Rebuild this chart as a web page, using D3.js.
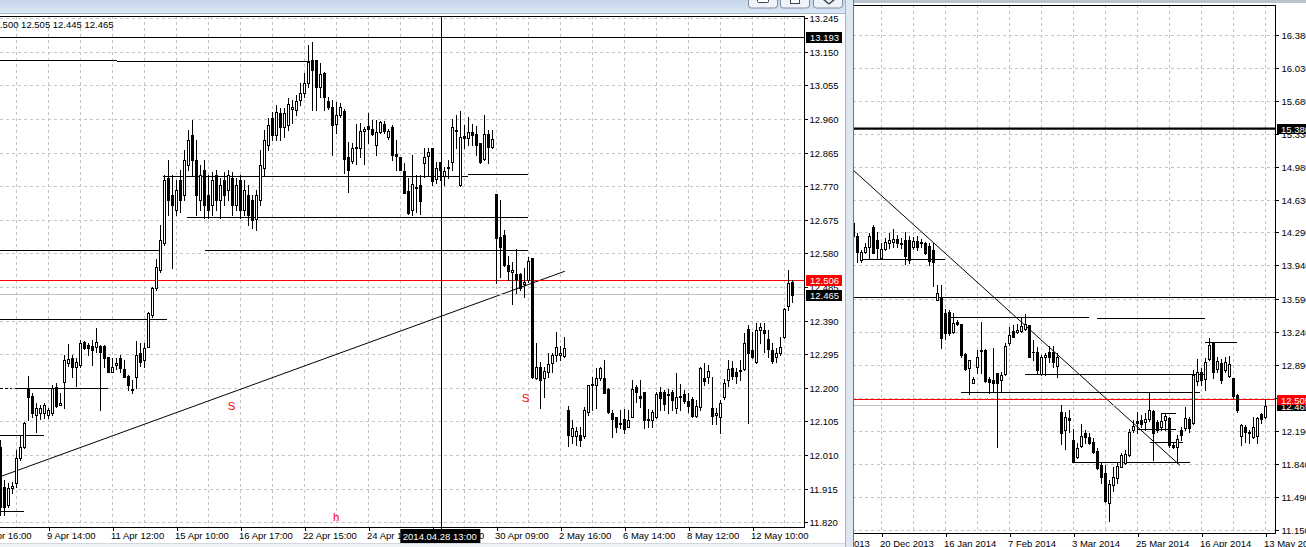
<!DOCTYPE html>
<html><head><meta charset="utf-8">
<script src="https://cdn.jsdelivr.net/npm/d3@7"></script>
<style>
html,body{margin:0;padding:0;background:#fff;overflow:hidden;}
svg{display:block;font-family:"Liberation Sans",Arial,sans-serif;}
</style></head><body>
<svg id="c" width="1306" height="547"></svg>
<script>
// ---------------- LEFT PANE (H1) DATA ----------------
const leftOpen = [12.034,11.921,11.871,11.918,11.933,12.003,12.034,12.201,12.178,12.125,12.130,12.130,12.125,12.130,12.204,12.153,12.218,12.272,12.286,12.260,12.266,12.331,12.323,12.320,12.317,12.320,12.320,12.289,12.246,12.266,12.286,12.255,12.235,12.198,12.232,12.300,12.280,12.317,12.408,12.484,12.535,12.611,12.795,12.747,12.704,12.789,12.747,12.832,12.916,12.846,12.733,12.817,12.747,12.718,12.803,12.733,12.789,12.761,12.795,12.718,12.789,12.704,12.747,12.733,12.679,12.733,12.823,12.888,12.964,12.916,12.978,12.939,12.945,12.990,12.987,13.015,13.035,13.063,13.128,13.128,13.052,13.092,13.012,12.996,12.947,12.973,12.984,12.854,12.843,12.880,12.880,12.928,12.942,12.933,12.888,12.925,12.948,12.911,12.939,12.863,12.854,12.815,12.758,12.704,12.767,12.775,12.837,12.857,12.880,12.792,12.840,12.800,12.823,12.840,12.928,12.775,12.914,12.908,12.925,12.919,12.894,12.849,12.919,12.882,12.750,12.628,12.634,12.549,12.529,12.523,12.523,12.495,12.506,12.569,12.229,12.260,12.229,12.246,12.272,12.294,12.294,12.292,12.139,12.065,12.065,12.068,12.065,12.133,12.210,12.210,12.229,12.229,12.198,12.130,12.119,12.102,12.113,12.091,12.119,12.204,12.178,12.190,12.113,12.111,12.119,12.190,12.190,12.184,12.190,12.144,12.178,12.184,12.164,12.170,12.122,12.147,12.229,12.232,12.144,12.125,12.119,12.176,12.224,12.258,12.246,12.249,12.255,12.368,12.309,12.275,12.365,12.365,12.340,12.309,12.289,12.300,12.345,12.433,12.500];
const leftHigh = [12.054,11.941,11.933,11.935,12.026,12.068,12.105,12.235,12.187,12.158,12.153,12.158,12.144,12.210,12.215,12.187,12.294,12.325,12.294,12.286,12.337,12.334,12.328,12.337,12.371,12.323,12.323,12.289,12.286,12.286,12.294,12.280,12.238,12.224,12.334,12.328,12.328,12.416,12.487,12.566,12.662,12.803,12.846,12.803,12.789,12.817,12.874,12.930,12.959,12.902,12.832,12.846,12.803,12.812,12.817,12.795,12.812,12.817,12.812,12.795,12.803,12.789,12.775,12.747,12.761,12.874,12.930,12.964,12.981,13.001,12.993,12.993,13.021,13.015,13.029,13.063,13.092,13.171,13.179,13.128,13.120,13.095,13.024,13.015,13.009,13.007,12.990,12.897,12.894,12.947,12.950,12.939,12.978,12.959,12.959,12.956,12.956,12.933,12.945,12.902,12.854,12.837,12.795,12.860,12.803,12.803,12.880,12.880,12.880,12.840,12.840,12.826,12.846,12.962,12.973,12.984,12.945,12.967,12.947,12.942,12.894,12.973,12.930,12.930,12.750,12.733,12.648,12.574,12.557,12.594,12.526,12.540,12.571,12.569,12.328,12.275,12.260,12.300,12.300,12.359,12.320,12.345,12.150,12.111,12.091,12.091,12.147,12.210,12.232,12.258,12.260,12.280,12.201,12.139,12.119,12.139,12.142,12.139,12.224,12.210,12.224,12.190,12.142,12.139,12.190,12.204,12.195,12.198,12.195,12.243,12.212,12.195,12.187,12.176,12.167,12.260,12.272,12.266,12.232,12.144,12.167,12.227,12.280,12.277,12.258,12.280,12.357,12.379,12.359,12.385,12.385,12.385,12.365,12.328,12.314,12.345,12.427,12.535,12.505];
const leftLow = [11.842,11.842,11.865,11.904,11.921,11.998,12.031,12.111,12.119,12.077,12.113,12.116,12.116,12.125,12.147,12.153,12.144,12.263,12.232,12.207,12.260,12.311,12.294,12.266,12.303,12.139,12.260,12.246,12.246,12.255,12.246,12.232,12.195,12.187,12.201,12.263,12.260,12.317,12.402,12.478,12.529,12.606,12.690,12.541,12.690,12.699,12.733,12.817,12.803,12.690,12.704,12.682,12.682,12.690,12.704,12.682,12.718,12.733,12.690,12.704,12.682,12.690,12.662,12.654,12.648,12.718,12.803,12.874,12.902,12.902,12.902,12.911,12.930,12.950,12.973,13.001,13.024,13.052,12.987,12.987,13.024,12.987,12.990,12.860,12.922,12.967,12.809,12.755,12.837,12.834,12.854,12.834,12.894,12.916,12.860,12.922,12.922,12.905,12.846,12.817,12.817,12.752,12.693,12.690,12.699,12.693,12.798,12.803,12.775,12.781,12.789,12.775,12.795,12.817,12.880,12.772,12.880,12.888,12.888,12.860,12.837,12.846,12.837,12.880,12.498,12.515,12.546,12.506,12.439,12.470,12.478,12.458,12.501,12.229,12.226,12.144,12.176,12.232,12.246,12.277,12.280,12.289,12.037,12.045,12.040,12.037,12.059,12.125,12.139,12.144,12.224,12.187,12.130,12.062,12.077,12.088,12.074,12.091,12.119,12.161,12.147,12.088,12.091,12.091,12.116,12.139,12.139,12.130,12.139,12.130,12.139,12.158,12.133,12.119,12.119,12.139,12.210,12.215,12.099,12.099,12.074,12.170,12.207,12.227,12.215,12.224,12.252,12.102,12.286,12.272,12.328,12.303,12.289,12.272,12.275,12.294,12.343,12.422,12.445];
const leftClose = [11.865,11.865,11.918,11.924,12.003,12.034,12.102,12.176,12.130,12.144,12.144,12.153,12.139,12.201,12.150,12.158,12.280,12.283,12.260,12.275,12.328,12.314,12.314,12.309,12.331,12.303,12.286,12.246,12.260,12.272,12.258,12.232,12.210,12.195,12.294,12.275,12.314,12.414,12.484,12.543,12.620,12.789,12.733,12.718,12.761,12.733,12.846,12.902,12.846,12.747,12.803,12.718,12.704,12.789,12.733,12.775,12.747,12.803,12.718,12.775,12.704,12.761,12.690,12.676,12.747,12.832,12.902,12.944,12.916,12.981,12.939,12.978,13.004,12.996,13.012,13.035,13.063,13.123,13.100,13.052,13.089,13.024,12.996,12.945,12.973,12.996,12.849,12.817,12.880,12.883,12.928,12.933,12.933,12.919,12.925,12.953,12.928,12.928,12.860,12.857,12.817,12.752,12.696,12.778,12.770,12.730,12.854,12.868,12.786,12.823,12.817,12.815,12.826,12.939,12.930,12.911,12.908,12.925,12.916,12.888,12.840,12.919,12.882,12.905,12.625,12.600,12.549,12.532,12.535,12.509,12.484,12.501,12.560,12.232,12.260,12.224,12.249,12.269,12.294,12.317,12.300,12.314,12.068,12.088,12.079,12.054,12.139,12.210,12.212,12.229,12.258,12.187,12.133,12.113,12.091,12.099,12.085,12.111,12.198,12.190,12.173,12.111,12.111,12.133,12.184,12.173,12.156,12.181,12.167,12.176,12.176,12.164,12.150,12.122,12.150,12.258,12.221,12.249,12.122,12.130,12.158,12.215,12.255,12.235,12.235,12.252,12.328,12.300,12.289,12.365,12.374,12.357,12.311,12.277,12.300,12.317,12.425,12.498,12.465];
const leftPriceTicks = [13.245,13.150,13.055,12.960,12.865,12.770,12.675,12.580,12.485,12.390,12.295,12.200,12.105,12.010,11.915,11.820];
const leftTickIdx = [-4,12,28,44,60,76,92,108,124,140,156,172,188];
const leftTickLabels = ["7 Apr 16:00","9 Apr 14:00","11 Apr 12:00","15 Apr 10:00","16 Apr 17:00","22 Apr 15:00","24 Apr 13:00","28 Apr 11:00","30 Apr 09:00","2 May 16:00","6 May 14:00","8 May 12:00","12 May 10:00"];
// horizontal objects: [fromBar, toBar, price]
const leftLevels = [[-1.5,29.1,13.126],[29.1,77.4,13.124],[40.6,116.9,12.800],[116.9,131.9,12.805],[46.6,131.9,12.684],[-1.5,39.9,12.591],[51.1,131.9,12.589],[-1.5,41.6,12.395],[3.6,26.9,12.199],[-1.5,10.9,12.067],[-1.5,5.9,11.852]];
const leftDashedLevel = [-1.5,2.9,12.199];
const leftTrend = [[-0.1,11.950],[141.1,12.531]];
const leftRedLevel = 12.506, leftBidLevel = 12.465;
const crossIdx = 110.2, crossPrice = 13.193, crossTime = "2014.04.28 13:00";
const leftTexts = [["S",56.8,12.139],["S",130.3,12.161],["h",83.1,11.826]];
const headerText = "12.500 12.505 12.445 12.465";

// ---------------- RIGHT PANE (D1) DATA ----------------
const rightOpen = [14.393,14.255,14.002,14.086,14.139,14.350,14.213,14.023,14.118,14.181,14.192,14.224,14.181,14.213,14.213,14.139,14.202,14.192,14.181,14.150,14.107,13.579,13.600,13.441,13.452,13.240,13.346,13.325,13.008,12.860,12.701,12.870,13.050,13.050,12.744,12.733,12.807,12.733,12.796,13.124,13.251,13.240,13.251,13.272,13.314,13.029,13.029,12.796,12.976,13.029,13.029,12.881,12.395,12.205,12.331,12.099,11.919,12.036,12.173,12.130,12.078,11.982,11.834,11.750,11.433,11.623,11.697,11.813,11.856,11.940,12.205,12.300,12.310,12.289,12.321,12.405,12.289,12.236,12.310,12.331,12.046,12.025,12.205,12.226,12.321,12.279,12.722,12.818,12.744,12.955,13.124,12.849,12.913,12.839,12.775,12.754,12.574,12.141,12.236,12.183,12.130,12.141,12.374,12.342];
const rightHigh = [14.424,14.287,14.107,14.181,14.287,14.371,14.298,14.181,14.234,14.287,14.329,14.266,14.234,14.298,14.255,14.245,14.255,14.224,14.192,14.181,14.181,13.737,13.737,13.483,13.473,13.441,13.367,13.325,13.018,12.944,12.765,13.050,13.346,13.061,12.765,13.071,12.807,12.818,13.124,13.293,13.314,13.325,13.399,13.431,13.314,13.156,13.082,12.997,13.018,13.092,13.092,13.018,12.469,12.395,12.416,12.215,12.067,12.268,12.205,12.173,12.120,12.014,11.856,11.834,11.676,11.813,11.866,11.961,11.993,12.215,12.310,12.395,12.363,12.384,12.606,12.416,12.310,12.384,12.374,12.342,12.078,12.152,12.236,12.448,12.342,12.839,12.955,12.860,12.966,13.177,13.135,12.976,12.955,12.976,12.987,12.754,12.585,12.268,12.257,12.205,12.342,12.342,12.384,12.530];
const rightLow = [14.213,13.980,13.980,14.076,14.012,14.076,14.012,14.012,14.107,14.128,14.139,14.139,14.128,13.959,13.970,14.118,14.107,14.139,14.065,13.949,13.727,13.579,13.071,13.166,13.209,13.230,13.314,12.976,12.839,12.585,12.701,12.807,12.807,12.712,12.596,12.606,12.025,12.617,12.786,13.103,13.188,13.230,13.240,13.262,12.976,12.944,12.796,12.786,12.786,12.923,12.870,12.765,12.056,12.004,12.183,11.866,11.908,12.025,12.067,12.056,11.961,11.792,11.644,11.443,11.242,11.560,11.644,11.813,11.845,11.930,12.183,12.173,12.236,12.205,12.300,11.887,12.183,12.205,12.205,12.025,12.014,11.856,12.099,12.205,12.183,12.268,12.680,12.680,12.627,12.944,12.754,12.818,12.701,12.818,12.765,12.543,12.395,12.046,12.078,12.067,12.120,12.067,12.279,12.331];
const rightClose = [14.255,14.086,14.086,14.139,14.255,14.076,14.128,14.118,14.192,14.213,14.224,14.181,14.171,14.044,14.002,14.202,14.139,14.181,14.076,13.991,13.980,13.653,13.177,13.230,13.230,13.336,13.325,12.997,12.849,12.944,12.744,12.976,13.040,12.722,12.712,12.701,12.701,12.786,13.092,13.209,13.188,13.262,13.304,13.325,12.976,13.029,12.839,12.976,12.997,12.976,12.923,12.976,12.173,12.342,12.310,11.866,12.014,12.141,12.130,12.067,11.972,11.803,11.708,11.454,11.634,11.708,11.824,11.940,11.951,12.183,12.247,12.279,12.268,12.321,12.416,12.173,12.205,12.300,12.352,12.046,12.025,12.109,12.152,12.331,12.226,12.786,12.818,12.733,12.923,13.103,12.818,12.934,12.733,12.923,12.902,12.564,12.416,12.257,12.183,12.173,12.236,12.331,12.321,12.465];
const rightFirstBar = -1;
const rightPriceTicks = [16.380,16.030,15.680,15.330,14.980,14.630,14.290,13.940,13.590,13.240,12.890,12.540,12.190,11.840,11.490,11.150];
const rightTickIdx = [-10,6,22,38,54,70,86,102];
const rightTickLabels = ["28 Nov 2013","20 Dec 2013","16 Jan 2014","7 Feb 2014","3 Mar 2014","25 Mar 2014","16 Apr 2014","13 May 2014"];
const rightLevels = [[-3,106,13.610],[0.6,21.9,14.009],[23.4,57.9,13.396],[59.9,86.9,13.385],[41.8,86.9,12.796],[25.9,85.6,12.603],[86.9,94.9,13.127],[75.9,79.6,12.381],[70.1,79.6,12.212],[73.1,81.4,12.074],[53.9,83.1,11.861]];
const rightThickLevel = 15.380;
const rightTrend = [[-1.1,14.953],[80.6,11.834]];
const rightRedLevel = 12.505, rightBidLevel = 12.465;

// ---------------- DRAWING ----------------
const svg = d3.select('#c');
const FONT = 9.5;
const defs = svg.append('defs');
const grad = defs.append('linearGradient').attr('id','tb').attr('x1',0).attr('y1',0).attr('x2',0).attr('y2',1);
grad.append('stop').attr('offset','0%').attr('stop-color','#c3d5ea');
grad.append('stop').attr('offset','100%').attr('stop-color','#dbe7f4');
defs.append('clipPath').attr('id','clipL').append('rect').attr('x',0).attr('y',16.5).attr('width',804).attr('height',511);
defs.append('clipPath').attr('id','clipR').append('rect').attr('x',854).attr('y',6).attr('width',422).attr('height',527);
defs.append('clipPath').attr('id','clipRA').append('rect').attr('x',854).attr('y',0).attr('width',452).attr('height',547);

svg.append('rect').attr('width',1306).attr('height',547).attr('fill','#fff');

const xL = d3.scaleLinear().domain([0,1]).range([0.5,4.5]);
const yL = d3.scaleLinear().domain([11.820,13.245]).range([522.7,18.7]);
const xR = d3.scaleLinear().domain([0,1]).range([857.5,861.5]);
const yR = d3.scaleLinear().domain([11.150,16.380]).range([530,35]);
const snap = v => Math.round(v - 0.5) + 0.5;

function grid(g, xs, ys, idxList, priceList, x0, x1, y0, y1) {
  g.selectAll('line.gv').data(idxList).join('line')
    .attr('x1', d => snap(xs(d))).attr('x2', d => snap(xs(d)))
    .attr('y1', y0).attr('y2', y1)
    .attr('stroke', '#c4c4c4').attr('stroke-dasharray', '3,3').attr('shape-rendering','crispEdges');
  g.selectAll('line.gh').data(priceList).join('line')
    .attr('x1', x0).attr('x2', x1)
    .attr('y1', d => snap(ys(d))).attr('y2', d => snap(ys(d)))
    .attr('stroke', '#c4c4c4').attr('stroke-dasharray', '3,3').attr('shape-rendering','crispEdges');
}
function levels(g, xs, ys, data, opts) {
  g.selectAll(null).data(data).join('line')
    .attr('x1', d => xs(d[0])).attr('x2', d => xs(d[1]))
    .attr('y1', d => snap(ys(d[2]))).attr('y2', d => snap(ys(d[2])))
    .attr('stroke', '#000').attr('stroke-width', 1).attr('shape-rendering','crispEdges');
}
function candles(g, xs, ys, O, H, L, C, first) {
  const idx = d3.range(O.length);
  const cx = i => snap(xs(i + first));
  g.selectAll(null).data(idx).join('line')
    .attr('x1', cx).attr('x2', cx)
    .attr('y1', i => Math.round(ys(H[i]))).attr('y2', i => Math.round(ys(L[i])) + 1)
    .attr('stroke', '#000').attr('shape-rendering','crispEdges');
  const top = i => Math.round(ys(Math.max(O[i], C[i])));
  const hgt = i => Math.max(1, Math.round(ys(Math.min(O[i], C[i]))) - top(i) + 1);
  g.selectAll(null).data(idx).join('rect')
    .attr('x', i => cx(i) - 1.5).attr('width', 3)
    .attr('y', top).attr('height', hgt)
    .attr('fill', '#000').attr('shape-rendering','crispEdges');
  g.selectAll(null).data(idx.filter(i => C[i] > O[i] && hgt(i) > 2)).join('rect')
    .attr('x', i => cx(i) - 0.5).attr('width', 1)
    .attr('y', i => top(i) + 1).attr('height', i => hgt(i) - 2)
    .attr('fill', '#fff').attr('shape-rendering','crispEdges');
}

// ===== LEFT PANE =====
const gL = svg.append('g').attr('clip-path','url(#clipL)');
const leftGridIdx = d3.range(-4, 200, 8);
grid(gL, xL, yL, leftGridIdx, leftPriceTicks, 0, 804, 16, 528);
levels(gL, xL, yL, leftLevels);
gL.append('line').attr('x1', xL(leftDashedLevel[0])).attr('x2', xL(leftDashedLevel[1]))
  .attr('y1', snap(yL(leftDashedLevel[2]))).attr('y2', snap(yL(leftDashedLevel[2])))
  .attr('stroke','#000').attr('stroke-dasharray','3,2').attr('shape-rendering','crispEdges');
gL.append('line').attr('x1', xL(leftTrend[0][0])).attr('y1', yL(leftTrend[0][1]))
  .attr('x2', xL(leftTrend[1][0])).attr('y2', yL(leftTrend[1][1]))
  .attr('stroke','#000').attr('stroke-width',1);
gL.append('line').attr('x1',0).attr('x2',804).attr('y1',snap(yL(leftRedLevel))).attr('y2',snap(yL(leftRedLevel)))
  .attr('stroke','#ff0000').attr('shape-rendering','crispEdges');
gL.append('line').attr('x1',0).attr('x2',804).attr('y1',snap(yL(leftBidLevel))).attr('y2',snap(yL(leftBidLevel)))
  .attr('stroke','#c0c0c0').attr('shape-rendering','crispEdges');
candles(gL, xL, yL, leftOpen, leftHigh, leftLow, leftClose, 0);
gL.selectAll(null).data(leftTexts).join('text')
  .attr('x', d => xL(d[1])).attr('y', d => yL(d[2]))
  .attr('fill', '#ff0000').attr('font-size', 11.5).text(d => d[0]);
// crosshair
gL.append('line').attr('x1',0).attr('x2',804).attr('y1',snap(yL(crossPrice))).attr('y2',snap(yL(crossPrice)))
  .attr('stroke','#000').attr('shape-rendering','crispEdges');
svg.append('line').attr('x1',snap(xL(crossIdx))).attr('x2',snap(xL(crossIdx))).attr('y1',16).attr('y2',531)
  .attr('stroke','#000').attr('shape-rendering','crispEdges');
// header
svg.append('text').attr('x',-10.6).attr('y',27.5).attr('font-size',FONT).attr('fill','#000').text(headerText);

// frame
svg.append('line').attr('x1',0).attr('x2',805).attr('y1',16.5).attr('y2',16.5).attr('stroke','#000').attr('shape-rendering','crispEdges');
svg.append('line').attr('x1',804.5).attr('x2',804.5).attr('y1',16).attr('y2',528).attr('stroke','#000').attr('shape-rendering','crispEdges');
svg.append('line').attr('x1',0).attr('x2',805).attr('y1',527.5).attr('y2',527.5).attr('stroke','#000').attr('shape-rendering','crispEdges');

// left axes
const axL = svg.append('g').attr('transform','translate(804.5,0)')
  .call(d3.axisRight(yL).tickValues(leftPriceTicks).tickSize(3).tickPadding(2).tickFormat(d3.format('.3f')));
axL.select('.domain').remove();
axL.selectAll('text').attr('font-size',FONT).attr('font-family','Liberation Sans, Arial, sans-serif').attr('fill','#000');
axL.selectAll('line').attr('stroke','#000').attr('shape-rendering','crispEdges');
axL.selectAll('.tick').attr('transform', d => `translate(0,${snap(yL(d))})`);

const axLB = svg.append('g').attr('transform','translate(0,527.5)')
  .call(d3.axisBottom(xL).tickValues(leftTickIdx).tickSize(3).tickPadding(2).tickFormat((d,i) => leftTickLabels[i]));
axLB.select('.domain').remove();
axLB.selectAll('text').attr('font-size',FONT).attr('font-family','Liberation Sans, Arial, sans-serif')
  .attr('fill','#000').attr('text-anchor','start').attr('x',-2);
axLB.selectAll('line').attr('stroke','#000').attr('shape-rendering','crispEdges');

// price boxes left
function priceBox(x, yc, w, fill, txt, col) {
  svg.append('rect').attr('x', x).attr('y', Math.round(yc) - 5).attr('width', w).attr('height', 11).attr('fill', fill);
  svg.append('text').attr('x', x + 4).attr('y', Math.round(yc) + 3.5).attr('font-size', FONT).attr('fill', col).text(txt);
}
priceBox(806, yL(crossPrice), 36, '#000', d3.format('.3f')(crossPrice), '#fff');
priceBox(806, yL(leftBidLevel), 36, '#000', d3.format('.3f')(leftBidLevel), '#fff');
priceBox(806, yL(leftRedLevel), 36, '#ff0000', d3.format('.3f')(leftRedLevel), '#fff');
// crosshair time box
svg.append('rect').attr('x', xL(crossIdx) - 41).attr('y', 529).attr('width', 80).attr('height', 14).attr('fill', '#000');
svg.append('text').attr('x', xL(crossIdx) - 38.5).attr('y', 539.5).attr('font-size', FONT).attr('fill', '#fff').text(crossTime);

// window chrome (left)
svg.append('rect').attr('x',0).attr('y',0).attr('width',846).attr('height',13).attr('fill','url(#tb)');
svg.append('line').attr('x1',0).attr('x2',846).attr('y1',13.5).attr('y2',13.5).attr('stroke','#aab8c8');
const btns = [748, 780, 813];
btns.forEach((bx, k) => {
  svg.append('rect').attr('x', bx + 0.5).attr('y', -4.5).attr('width', 29).attr('height', 12.5).attr('rx', 3)
    .attr('fill', '#eef3f8').attr('stroke', '#7f8ea3');
});
svg.append('rect').attr('x',757.5).attr('y',-1.5).attr('width',11).attr('height',4).attr('rx',1).attr('fill','#fff').attr('stroke','#3c4450');
svg.append('rect').attr('x',790.5).attr('y',-2.5).attr('width',9).attr('height',6).attr('fill','#fff').attr('stroke','#3c4450');
svg.append('path').attr('d','M823,-1 L829,4 M835,-1 L829,4').attr('stroke','#3c4450').attr('stroke-width',1.5).attr('fill','none');
// separator
svg.append('rect').attr('x',845).attr('y',0).attr('width',8).attr('height',547).attr('fill','#dce7f3');
svg.append('line').attr('x1',845.5).attr('x2',845.5).attr('y1',0).attr('y2',547).attr('stroke','#a9b4c2');
svg.append('line').attr('x1',0).attr('x2',845).attr('y1',543.5).attr('y2',543.5).attr('stroke','#d4d8dd');
svg.append('rect').attr('x',0).attr('y',544).attr('width',845).attr('height',3).attr('fill','#eef2f6');

// ===== RIGHT PANE =====
const gR = svg.append('g').attr('clip-path','url(#clipR)');
const rightGridIdx = d3.range(-2, 110, 8);
grid(gR, xR, yR, rightGridIdx, rightPriceTicks, 853, 1276, 5, 533);
levels(gR, xR, yR, rightLevels);
gR.append('line').attr('x1',853).attr('x2',1276).attr('y1',yR(rightThickLevel)-1).attr('y2',yR(rightThickLevel)-1)
  .attr('stroke','#000').attr('stroke-width',2.2);
gR.append('line').attr('x1', xR(rightTrend[0][0])).attr('y1', yR(rightTrend[0][1]))
  .attr('x2', xR(rightTrend[1][0])).attr('y2', yR(rightTrend[1][1]))
  .attr('stroke','#000').attr('stroke-width',1);
gR.append('line').attr('x1',853).attr('x2',1276).attr('y1',snap(yR(rightRedLevel))-2).attr('y2',snap(yR(rightRedLevel))-2)
  .attr('stroke','#ff0000').attr('shape-rendering','crispEdges');
gR.append('line').attr('x1',853).attr('x2',1276).attr('y1',snap(yR(rightBidLevel))).attr('y2',snap(yR(rightBidLevel)))
  .attr('stroke','#c0c0c0').attr('shape-rendering','crispEdges');
candles(gR, xR, yR, rightOpen, rightHigh, rightLow, rightClose, rightFirstBar);

// right chrome + frame
svg.append('rect').attr('x',853).attr('y',0).attr('width',453).attr('height',3).attr('fill','#b9c4d0');
svg.append('line').attr('x1',853).attr('x2',1276).attr('y1',5.5).attr('y2',5.5).attr('stroke','#000').attr('shape-rendering','crispEdges');
svg.append('line').attr('x1',1275.5).attr('x2',1275.5).attr('y1',5).attr('y2',534).attr('stroke','#000').attr('shape-rendering','crispEdges');
svg.append('line').attr('x1',853).attr('x2',1276).attr('y1',533.5).attr('y2',533.5).attr('stroke','#000').attr('shape-rendering','crispEdges');
svg.append('line').attr('x1',853.5).attr('x2',853.5).attr('y1',0).attr('y2',547).attr('stroke','#6d747c').attr('shape-rendering','crispEdges');

const axR = svg.append('g').attr('transform','translate(1275.5,0)')
  .call(d3.axisRight(yR).tickValues(rightPriceTicks).tickSize(3).tickPadding(3).tickFormat(d3.format('.3f')));
axR.select('.domain').remove();
axR.selectAll('text').attr('font-size',FONT).attr('font-family','Liberation Sans, Arial, sans-serif').attr('fill','#000');
axR.selectAll('line').attr('stroke','#000').attr('shape-rendering','crispEdges');
axR.selectAll('.tick').attr('transform', d => `translate(0,${snap(yR(d))})`);

const axRB = svg.append('g').attr('clip-path','url(#clipRA)').append('g').attr('transform','translate(0,533.5)')
  .call(d3.axisBottom(xR).tickValues(rightTickIdx).tickSize(3).tickPadding(3.5).tickFormat((d,i) => rightTickLabels[i]));
axRB.select('.domain').remove();
axRB.selectAll('text').attr('font-size',FONT).attr('font-family','Liberation Sans, Arial, sans-serif')
  .attr('fill','#000').attr('text-anchor','start').attr('x',-2);
axRB.selectAll('line').attr('stroke','#000').attr('shape-rendering','crispEdges');

function priceBoxR(yc, fill, txt) {
  svg.append('rect').attr('x', 1277).attr('y', Math.round(yc) - 5).attr('width', 30).attr('height', 10).attr('fill', fill);
  svg.append('text').attr('x', 1281).attr('y', Math.round(yc) + 3.5).attr('font-size', FONT).attr('fill', '#fff').text(txt);
}
priceBoxR(yR(rightThickLevel) - 1, '#000', d3.format('.3f')(rightThickLevel));
priceBoxR(yR(rightBidLevel), '#000', d3.format('.3f')(rightBidLevel));
priceBoxR(yR(rightRedLevel) - 2, '#ff0000', d3.format('.3f')(rightRedLevel));
</script>
</body></html>
